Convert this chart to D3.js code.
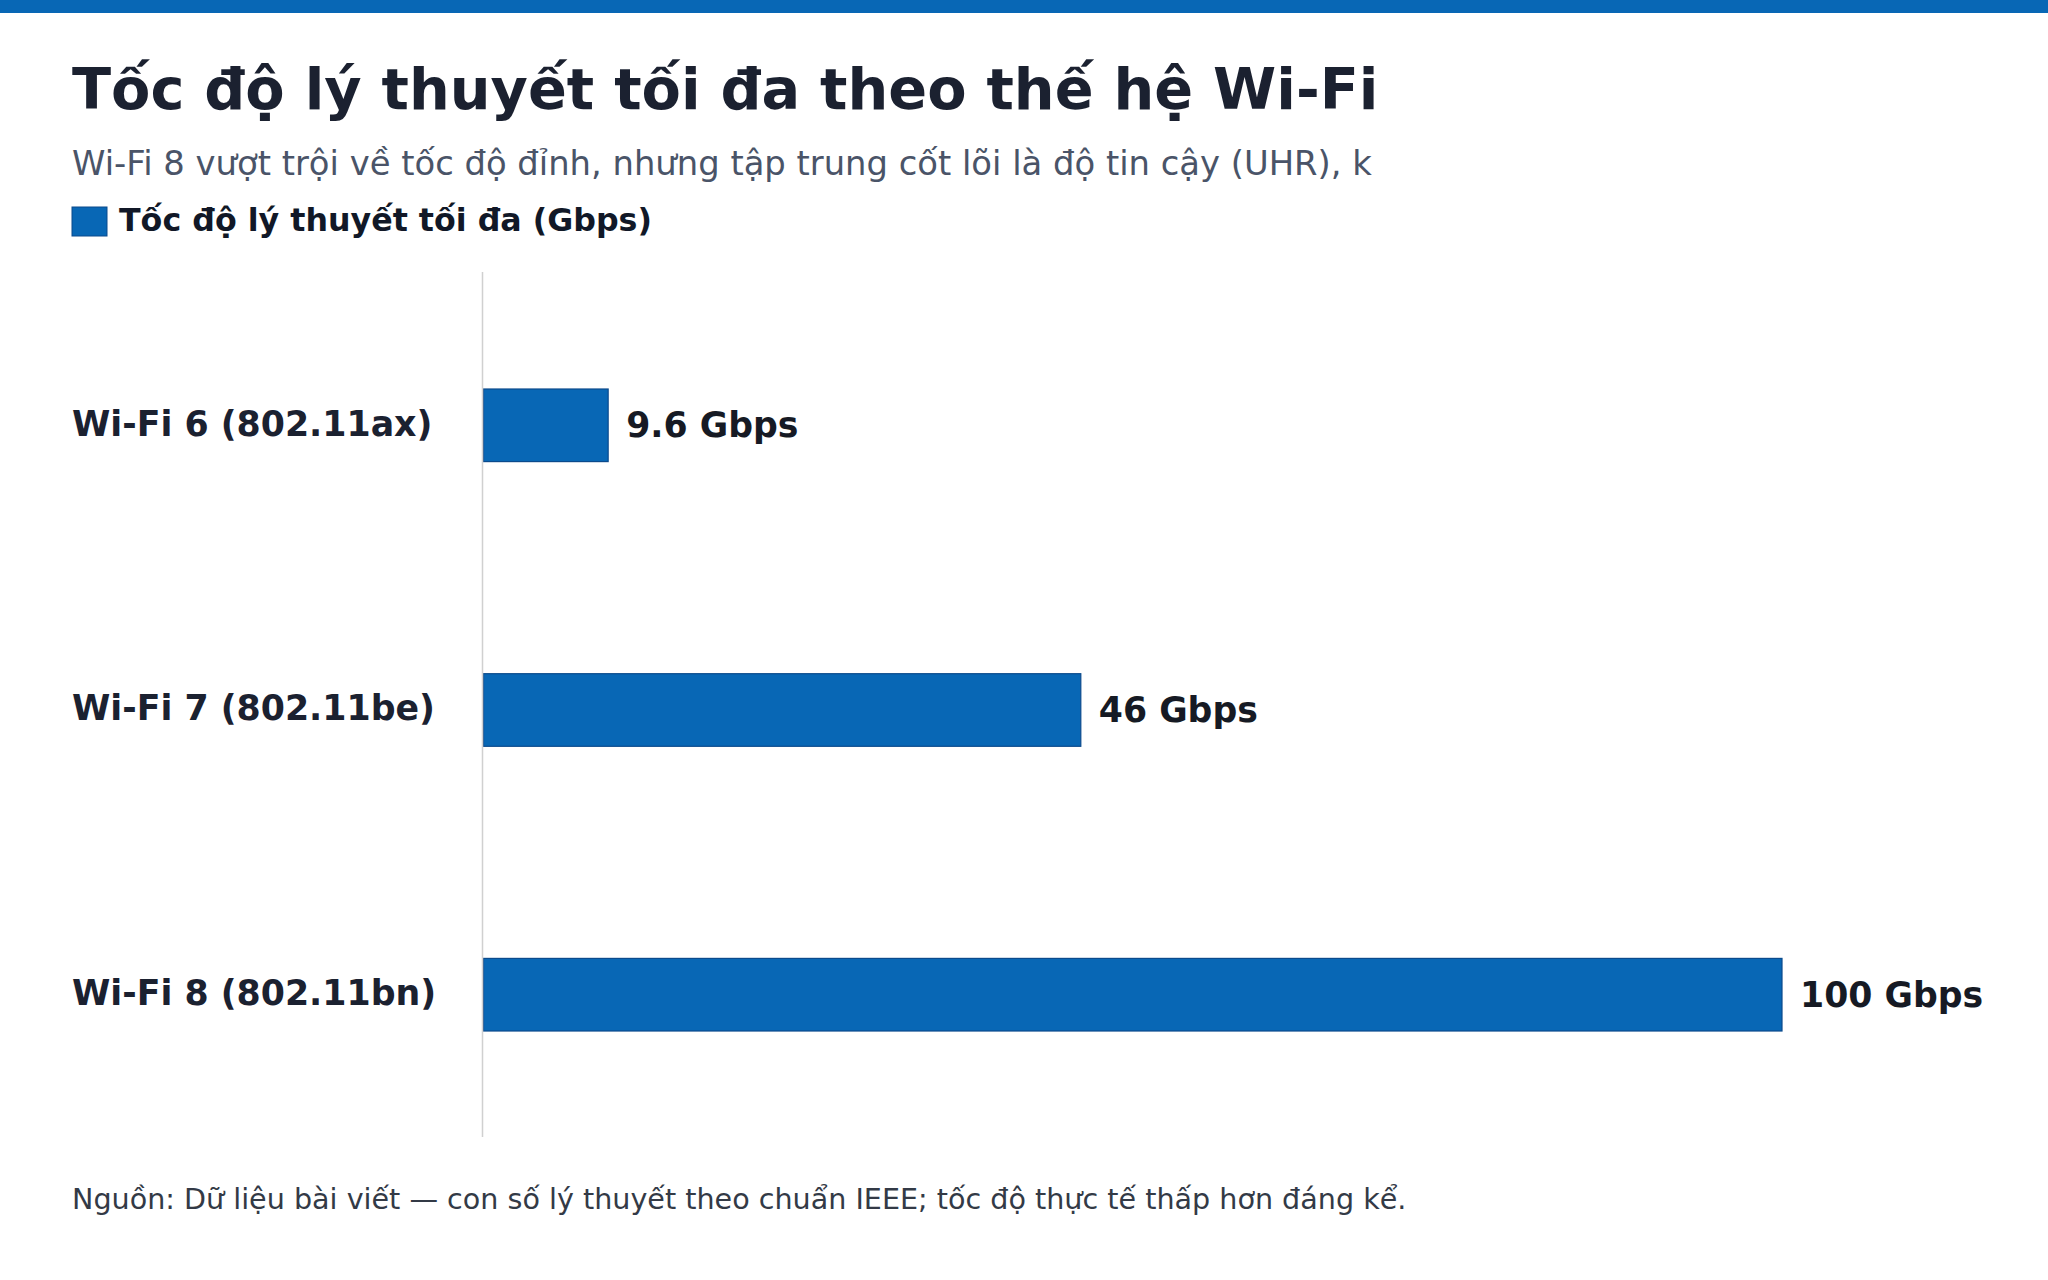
<!DOCTYPE html>
<html>
<head>
<meta charset="utf-8">
<script src="https://cdn.jsdelivr.net/npm/d3@7"></script>
<style>
  html, body { margin: 0; padding: 0; background: #ffffff; }
  svg { display: block; font-family: "DejaVu Sans", sans-serif; }
</style>
</head>
<body>
<svg id="chart" width="2048" height="1280"></svg>
<script>
const categories = ["Wi-Fi 6 (802.11ax)", "Wi-Fi 7 (802.11be)", "Wi-Fi 8 (802.11bn)"];
const speeds = [9.6, 46, 100];
const valueLabels = ["9.6 Gbps", "46 Gbps", "100 Gbps"];
const seriesName = "Tốc độ lý thuyết tối đa (Gbps)";
const titleText = "Tốc độ lý thuyết tối đa theo thế hệ Wi-Fi";
const subtitleText = "Wi-Fi 8 vượt trội về tốc độ đỉnh, nhưng tập trung cốt lõi là độ tin cậy (UHR), k";
const sourceText = "Nguồn: Dữ liệu bài viết — con số lý thuyết theo chuẩn IEEE; tốc độ thực tế thấp hơn đáng kể.";

const W = 2048, H = 1280;
const accent = "#0867b5";
const barStroke = "#0b4a8c";
const svg = d3.select("#chart");

svg.append("rect").attr("x", 0).attr("y", 0).attr("width", W).attr("height", 13).attr("fill", accent);

svg.append("text").attr("x", 72).attr("y", 109)
  .attr("font-size", 57.3).attr("font-weight", "bold").attr("fill", "#1b2130")
  .text(titleText);

svg.append("text").attr("x", 72).attr("y", 175)
  .attr("font-size", 33.8).attr("fill", "#4a5468")
  .text(subtitleText);

svg.append("rect").attr("x", 72).attr("y", 207).attr("width", 35).attr("height", 29)
  .attr("fill", accent).attr("stroke", barStroke).attr("stroke-width", 1);
svg.append("text").attr("x", 119).attr("y", 231)
  .attr("font-size", 31.7).attr("font-weight", "bold").attr("fill", "#111827")
  .text(seriesName);

const x = d3.scaleLinear().domain([0, 100]).range([483.5, 1782]);
const y = d3.scaleBand().domain(categories).range([389, 1031]).paddingInner(0.745).paddingOuter(0);

const rows = categories.map((c, i) => ({ c, v: speeds[i], label: valueLabels[i] }));

svg.selectAll("rect.bar").data(rows).enter().append("rect")
  .attr("class", "bar")
  .attr("x", x(0)).attr("y", d => y(d.c))
  .attr("width", d => x(d.v) - x(0)).attr("height", y.bandwidth())
  .attr("fill", accent).attr("stroke", barStroke).attr("stroke-width", 1.2);

svg.append("line").attr("x1", 482.5).attr("x2", 482.5).attr("y1", 272).attr("y2", 1137)
  .attr("stroke", "#d0d0d0").attr("stroke-width", 1.5);

svg.selectAll("text.cat").data(rows).enter().append("text")
  .attr("class", "cat")
  .attr("x", 72).attr("y", d => y(d.c) + y.bandwidth() / 2).attr("dy", "0.3em")
  .attr("font-size", 34.75).attr("font-weight", "bold").attr("fill", "#1b2130")
  .text(d => d.c);

svg.selectAll("text.val").data(rows).enter().append("text")
  .attr("class", "val")
  .attr("x", d => x(d.v) + 18).attr("y", d => y(d.c) + y.bandwidth() / 2).attr("dy", "0.35em")
  .attr("font-size", 34.7).attr("font-weight", "bold").attr("fill", "#161a24")
  .text(d => d.label);

svg.append("text").attr("x", 72).attr("y", 1209)
  .attr("font-size", 28.6).attr("fill", "#333a46")
  .text(sourceText);
</script>
</body>
</html>
